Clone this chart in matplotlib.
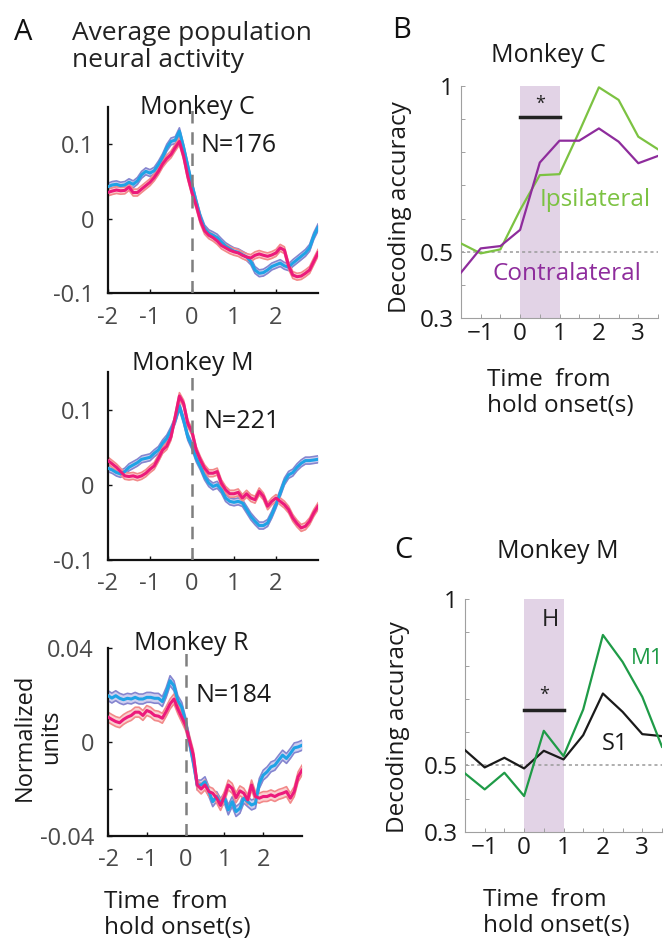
import numpy as np
import matplotlib
matplotlib.use("Agg")
import matplotlib.pyplot as plt

plt.rcParams['font.family'] = ['Open Sans', 'DejaVu Sans']

# ---- panel A data: average population activity, 0.1 s steps from -2 to 3 s
t_pop = np.round(np.arange(-2.0, 3.001, 0.1), 2)

c_blue = [0.0429, 0.0452, 0.0461, 0.0443, 0.0452, 0.0489, 0.0461, 0.0507, 0.0589, 0.0635,
          0.0612, 0.0644, 0.0726, 0.0826, 0.0954, 0.1037, 0.1055, 0.1174, 0.0954, 0.0703,
          0.0452, 0.0224, 0.0018, -0.0132, -0.0196, -0.0224, -0.0256, -0.0315, -0.0370, -0.0406,
          -0.0438, -0.0452, -0.0484, -0.0516, -0.0575, -0.0690, -0.0735, -0.0726, -0.0690, -0.0644,
          -0.0621, -0.0598, -0.0635, -0.0653, -0.0598, -0.0553, -0.0507, -0.0461, -0.0393, -0.0233,
          -0.0119]
c_pink = [0.0352, 0.0370, 0.0384, 0.0374, 0.0379, 0.0425, 0.0350, 0.0350, 0.0397, 0.0443,
          0.0489, 0.0553, 0.0635, 0.0735, 0.0808, 0.0863, 0.0954, 0.1037, 0.0840, 0.0566,
          0.0352, 0.0178, -0.0027, -0.0164, -0.0224, -0.0256, -0.0301, -0.0361, -0.0393, -0.0425,
          -0.0447, -0.0461, -0.0493, -0.0516, -0.0530, -0.0493, -0.0475, -0.0493, -0.0507, -0.0489,
          -0.0461, -0.0393, -0.0425, -0.0635, -0.0758, -0.0781, -0.0772, -0.0735, -0.0690, -0.0575,
          -0.0461]

m_blue = [0.0220, 0.0198, 0.0163, 0.0145, 0.0176, 0.0233, 0.0264, 0.0295, 0.0339, 0.0352,
          0.0366, 0.0419, 0.0463, 0.0551, 0.0617, 0.0727, 0.0859, 0.1044, 0.0859, 0.0639,
          0.0515, 0.0352, 0.0242, 0.0110, 0.0022, -0.0022, 0.0000, -0.0066, -0.0176, -0.0220,
          -0.0233, -0.0220, -0.0242, -0.0330, -0.0419, -0.0485, -0.0542, -0.0542, -0.0507, -0.0396,
          -0.0264, -0.0110, 0.0044, 0.0132, 0.0163, 0.0233, 0.0286, 0.0322, 0.0322, 0.0330,
          0.0339]
m_pink = [0.0322, 0.0278, 0.0233, 0.0176, 0.0119, 0.0110, 0.0119, 0.0101, 0.0119, 0.0154,
          0.0207, 0.0251, 0.0352, 0.0463, 0.0515, 0.0639, 0.0903, 0.1180, 0.1080, 0.0815,
          0.0705, 0.0463, 0.0330, 0.0220, 0.0154, 0.0154, 0.0176, 0.0022, -0.0066, -0.0119,
          -0.0119, -0.0101, -0.0176, -0.0119, -0.0176, -0.0198, -0.0088, -0.0154, -0.0286, -0.0220,
          -0.0176, -0.0220, -0.0264, -0.0330, -0.0441, -0.0515, -0.0573, -0.0551, -0.0485, -0.0374,
          -0.0286]

r_blue = [0.0197, 0.0187, 0.0197, 0.0186, 0.0180, 0.0186, 0.0183, 0.0190, 0.0183, 0.0183,
          0.0190, 0.0190, 0.0186, 0.0186, 0.0172, 0.0211, 0.0261, 0.0239, 0.0176, 0.0148,
          0.0085, 0.0000, -0.0085, -0.0183, -0.0183, -0.0169, -0.0211, -0.0254, -0.0232, -0.0261,
          -0.0239, -0.0289, -0.0254, -0.0296, -0.0282, -0.0239, -0.0254, -0.0268, -0.0261, -0.0176,
          -0.0141, -0.0127, -0.0106, -0.0099, -0.0077, -0.0056, -0.0070, -0.0049, -0.0025, -0.0021,
          -0.0014]
r_pink = [0.0106, 0.0096, 0.0087, 0.0082, 0.0096, 0.0106, 0.0113, 0.0127, 0.0127, 0.0113,
          0.0134, 0.0127, 0.0113, 0.0110, 0.0101, 0.0130, 0.0162, 0.0183, 0.0141, 0.0106,
          0.0070, 0.0007, -0.0056, -0.0183, -0.0200, -0.0183, -0.0211, -0.0218, -0.0239, -0.0270,
          -0.0232, -0.0183, -0.0197, -0.0237, -0.0208, -0.0218, -0.0246, -0.0183, -0.0232, -0.0239,
          -0.0232, -0.0232, -0.0225, -0.0232, -0.0223, -0.0218, -0.0211, -0.0239, -0.0211, -0.0148,
          -0.0120]

monkeys = ['Monkey C', 'Monkey M', 'Monkey R']
n_units = ['N=176', 'N=221', 'N=184']
band_w = [0.0046, 0.0046, 0.0021]

# ---- panels B/C: decoding accuracy, 0.5 s bins
t_dec = [-1.5, -1.0, -0.5, 0.0, 0.5, 1.0, 1.5, 2.0, 2.5, 3.0, 3.5]
ipsi = [0.525, 0.495, 0.507, 0.626, 0.731, 0.734, 0.862, 0.996, 0.958, 0.847, 0.809]
contra = [0.437, 0.510, 0.517, 0.566, 0.769, 0.835, 0.835, 0.872, 0.832, 0.767, 0.789]
s1 = [0.546, 0.494, 0.523, 0.491, 0.544, 0.518, 0.591, 0.716, 0.661, 0.594, 0.588]
m1 = [0.476, 0.428, 0.478, 0.408, 0.604, 0.528, 0.668, 0.892, 0.811, 0.706, 0.556]

BLUE, BLUE_EDGE, BLUE_FILL = '#1fa3e6', '#8585cf', '#cfcff0'
PINK, PINK_EDGE, PINK_FILL = '#ec1a7b', '#f28a8a', '#fbd0d0'
TXT = '#1a1a1a'

fig = plt.figure(figsize=(6.64, 9.44), dpi=100)
W, H = 664.0, 944.0


def px_axes(left, top, right, bottom):
    return fig.add_axes([left / W, 1 - bottom / H, (right - left) / W, (bottom - top) / H])


def ftext(x, y, s, **kw):
    fig.text(x / W, 1 - y / H, s, **kw)


a_boxes = [(108, 107, 318, 293), (108, 372, 318, 560), (108, 648, 302, 836)]
pops = [(c_blue, c_pink), (m_blue, m_pink), (r_blue, r_pink)]
ylims = [(-0.1, 0.15), (-0.1, 0.15), (-0.04, 0.04)]

for i, box in enumerate(a_boxes):
    ax = px_axes(*box)
    for y, lc, ec, fc in [(pops[i][0], BLUE, BLUE_EDGE, BLUE_FILL),
                          (pops[i][1], PINK, PINK_EDGE, PINK_FILL)]:
        y = np.array(y)
        w = band_w[i]
        ax.fill_between(t_pop, y - w, y + w, color=fc, lw=0, zorder=2)
        ax.plot(t_pop, y - w, color=ec, lw=1.2, zorder=2)
        ax.plot(t_pop, y + w, color=ec, lw=1.2, zorder=2)
        ax.plot(t_pop, y, color=lc, lw=2.2, zorder=3)
    ax.axvline(0, color='#7f7f7f', lw=1.8, ls=(0, (5, 3.5)), zorder=4)
    ax.set_xlim(-2, 3)
    ax.set_ylim(*ylims[i])
    ax.set_xticks([-2, -1, 0, 1, 2])
    ax.set_xticklabels(['-2', '-1', '0', '1', '2'])
    if i < 2:
        ax.set_yticks([-0.1, 0, 0.1])
        ax.set_yticklabels(['-0.1', '0', '0.1'])
    else:
        ax.set_yticks([-0.04, -0.02, 0, 0.02, 0.04])
        ax.set_yticklabels(['-0.04', '', '0', '', '0.04'])
    for s in ['top', 'right']:
        ax.spines[s].set_visible(False)
    for s in ['left', 'bottom']:
        ax.spines[s].set_linewidth(1.6)
        ax.spines[s].set_color('#111111')
    ax.tick_params(direction='in', length=3, width=1, colors='#111111',
                   labelcolor='#4a4a4a', labelsize=17)
    ax.tick_params(axis='x', pad=9)
    ax.tick_params(axis='y', pad=10)
    ax.patch.set_alpha(0)

ftext(197, 107, monkeys[0], ha='center', va='center', fontsize=18, color=TXT)
ftext(193, 363, monkeys[1], ha='center', va='center', fontsize=18, color=TXT)
ftext(191, 643, monkeys[2], ha='center', va='center', fontsize=18, color=TXT)
ftext(239, 145, n_units[0], ha='center', va='center', fontsize=18, color=TXT)
ftext(242, 421, n_units[1], ha='center', va='center', fontsize=18, color=TXT)
ftext(234, 696, n_units[2], ha='center', va='center', fontsize=18, color=TXT)

ftext(23, 32, 'A', ha='center', va='center', fontsize=21, color='#111111')
ftext(72, 47, 'Average population\nneural activity', ha='left', va='center',
      fontsize=19, color='#222222', linespacing=1.12)
ftext(38, 737, 'Normalized\nunits', ha='center', va='center', rotation=90,
      fontsize=17, color=TXT, linespacing=1.12)
ftext(104, 915, 'Time  from\nhold onset(s)', ha='left', va='center',
      fontsize=17.5, color=TXT, linespacing=1.15)

# ---- panels B and C
dec_boxes = [(461, 86, 658, 318), (465, 599, 662, 832)]
for j, box in enumerate(dec_boxes):
    ax = px_axes(*box)
    ax.axvspan(0, 1, color='#e2d3e6', lw=0, zorder=0)
    ax.axhline(0.5, color='#9a9a9a', lw=1.1, ls=(0, (2, 2)), zorder=1)
    if j == 0:
        ax.plot(t_dec, ipsi, color='#7cc242', lw=1.6, zorder=3)
        ax.plot(t_dec, contra, color='#8e2c9c', lw=1.6, zorder=3)
        ax.plot([0, 1], [0.906, 0.906], color='#222222', lw=2.5, zorder=4)
        ax.text(0.5, 0.945, '*', ha='center', va='center', fontsize=13, color='#222222')
        ax.text(0.5, 0.655, 'Ipsilateral', color='#7cc242', fontsize=17.5, va='center')
        ax.text(-0.71, 0.433, 'Contralateral', color='#8e2c9c', fontsize=17.5, va='center')
    else:
        ax.plot(t_dec, s1, color=TXT, lw=1.6, zorder=3)
        ax.plot(t_dec, m1, color='#1f9b47', lw=1.6, zorder=3)
        ax.plot([0, 1], [0.668, 0.668], color='#222222', lw=2.5, zorder=4)
        ax.text(0.5, 0.712, '*', ha='center', va='center', fontsize=13, color='#222222')
        ax.text(0.66, 0.937, 'H', ha='center', va='center', fontsize=17, color='#222222')
        ax.text(2.72, 0.82, 'M1', color='#1f9b47', fontsize=16, va='center', clip_on=False)
        ax.text(1.98, 0.565, 'S1', color=TXT, fontsize=17, va='center')
    ax.set_xlim(-1.5, 3.5)
    ax.set_ylim(0.3, 1.0)
    ax.set_xticks(np.arange(-1.5, 3.51, 0.5))
    ax.set_xticklabels(['', '\u22121', '', '0', '', '1', '', '2', '', '3', ''])
    ax.set_yticks(np.arange(0.3, 1.001, 0.1))
    ax.set_yticklabels(['0.3', '', '0.5', '', '', '', '', '1'])
    for s in ['top', 'right']:
        ax.spines[s].set_visible(False)
    for s in ['left', 'bottom']:
        ax.spines[s].set_linewidth(0.8)
        ax.spines[s].set_color('#a0a0a0')
    ax.tick_params(direction='in', length=3, width=0.7, colors='#a0a0a0',
                   labelcolor=TXT, labelsize=17.5)
    ax.tick_params(axis='x', pad=3)
    ax.tick_params(axis='y', pad=5)
    ax.patch.set_alpha(0)

ftext(402, 30, 'B', ha='center', va='center', fontsize=21, color='#111111')
ftext(548, 55, 'Monkey C', ha='center', va='center', fontsize=18, color=TXT)
ftext(400, 207, 'Decoding accuracy', ha='center', va='center', rotation=90,
      fontsize=17.5, color=TXT)
ftext(487, 393, 'Time  from\nhold onset(s)', ha='left', va='center',
      fontsize=17.5, color=TXT, linespacing=1.15)

ftext(403, 550, 'C', ha='center', va='center', fontsize=21, color='#111111')
ftext(558, 552, 'Monkey M', ha='center', va='center', fontsize=18, color=TXT)
ftext(398, 727, 'Decoding accuracy', ha='center', va='center', rotation=90,
      fontsize=17.5, color=TXT)
ftext(483, 913, 'Time  from\nhold onset(s)', ha='left', va='center',
      fontsize=17.5, color=TXT, linespacing=1.15)

fig.savefig('out.png', dpi=100)
